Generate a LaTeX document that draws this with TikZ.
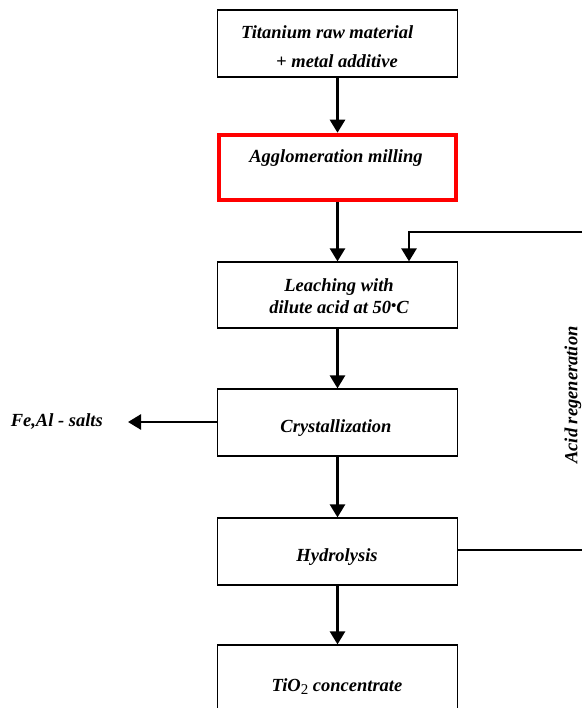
\documentclass[tikz,border=0pt]{standalone}
\usepackage{fontspec}
\setmainfont{Liberation Serif}
\usetikzlibrary{arrows.meta}
\begin{document}
\begin{tikzpicture}[x=1pt,y=-1pt,
  box/.style={draw=black,line width=1.2pt,minimum width=240pt,minimum height=67pt,inner sep=0pt},
  redbox/.style={draw=red,line width=4.5pt,minimum width=237pt,minimum height=65pt,inner sep=0pt},
  txt/.style={font=\fontsize{18.5}{22}\selectfont\bfseries\itshape,inner sep=0pt},
  arr/.style={line width=2.6pt,-{Triangle[width=15pt,length=13pt]}},
  ln/.style={line width=2.6pt}]
\useasboundingbox (0,0) rectangle (582,708);
\clip (0,0) rectangle (582,708);
% boxes
\node[box] (b1) at (337.5,43.5) {};
\node[redbox] (b2) at (337.5,167.5) {};
\node[box,minimum height=66pt] (b3) at (337.5,295) {};
\node[box] (b4) at (337.5,422.5) {};
\node[box] (b5) at (337.5,551.5) {};
\node[box,minimum height=90pt] (b6) at (337.5,690) {};
% texts
\node[txt,font=\fontsize{18.5}{29}\selectfont\bfseries\itshape,anchor=west,align=left] (t1) at (241,46.5) {Titanium raw material\\\hspace*{35pt}+ metal additive};
\node[txt] (t2) at (336,158) {Agglomeration milling};
\node[txt,align=center] (t3) at (339,296) {Leaching with\\dilute acid at 50\raisebox{0.35ex}{\scalebox{0.8}{•}}C};
\node[txt] (t4) at (336,428) {Crystallization};
\node[txt] (t5) at (337,557) {Hydrolysis};
\node[txt] (t6) at (337,687) {TiO{\mdseries\upshape\raisebox{-0.35ex}{\fontsize{15}{15}\selectfont 2}} concentrate};
\node[txt,anchor=east] (fe) at (103,422) {Fe,Al - salts};
\node[txt,rotate=90] (acid) at (573,395) {Acid regeneration};
% coordinates
\coordinate (rtop) at (582,232);
\coordinate (rbot) at (582,550);
\coordinate (rx) at (409,0);
% connectors
\draw[arr] (b1.south) -- (b2.north);
\draw[arr] (b2.south) -- (b3.north);
\draw[arr] (b3.south) -- (b4.north);
\draw[arr] (b4.south) -- (b5.north);
\draw[arr] (b5.south) -- (b6.north);
\draw[arr] (b4.west |- 0,422) -- ([xshift=25pt]fe.east);
\draw[arr] (rtop) -| (b3.north -| rx);
\draw[ln] (b5.east |- rbot) -- (rbot);
\end{tikzpicture}
\end{document}
